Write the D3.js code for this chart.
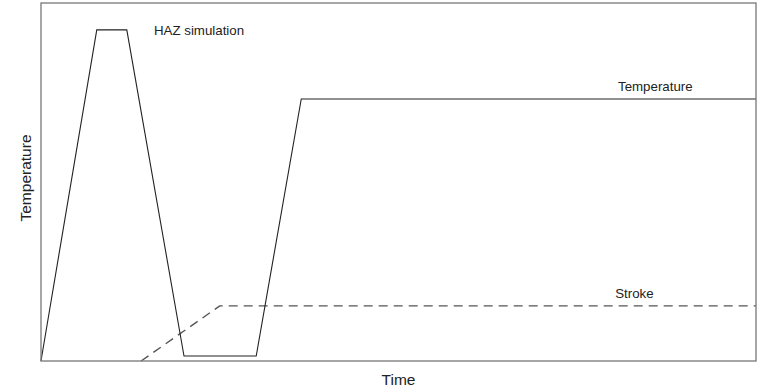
<!DOCTYPE html>
<html>
<head>
  <meta content="text/html;charset=utf-8" http-equiv="Content-Type">
  <title>HAZ simulation</title>
  <style type="text/css">
    body { margin: 0; background: #fff; }
    #chart text { font-family: "Liberation Sans", Arial, sans-serif; fill: #222; }
    #chart .lbl { font-size: 13.3px; }
    #chart .axt { font-size: 15.5px; }
  </style>
  <script src="https://cdnjs.cloudflare.com/ajax/libs/d3/7.6.1/d3.min.js"></script>
  <script>
    // temperature cycle (time, temperature), arbitrary units
    var temp_time = [0, 7.8, 12.0, 20.0, 30.1, 36.4, 100];
    var temp_value = [0, 92.5, 92.5, 1.4, 1.4, 73.2, 73.2];

    // stroke (time, displacement)
    var stroke_time = [14.0, 25.0, 100];
    var stroke_value = [0, 15.4, 15.4];

    var title_text = 'HAZ simulation';
    var x_title = 'Time';
    var y_title = 'Temperature';

    function main() {
      var width = 759, height = 388;
      var left = 41, right = 756, top = 3, bottom = 361;

      var svg = d3.select('#chart').
            attr('width', width).
            attr('height', height);

      var x = d3.scaleLinear().domain([0, 100]).range([left, right]);
      var y = d3.scaleLinear().domain([0, 100]).range([bottom, top]);

      var line = d3.line().
            x(function(d) { return x(d[0]); }).
            y(function(d) { return y(d[1]); });

      var temp = d3.zip(temp_time, temp_value);
      var stroke = d3.zip(stroke_time, stroke_value);

      svg.append('path').
            datum(stroke).
            attr('d', line).
            attr('fill', 'none').
            attr('stroke', '#555').
            attr('stroke-width', 1.4).
            attr('stroke-dasharray', '9,6');

      svg.append('path').
            datum(temp).
            attr('d', line).
            attr('fill', 'none').
            attr('stroke', '#222').
            attr('stroke-width', 1.1);

      // frame
      svg.append('rect').
            attr('x', left).
            attr('y', top).
            attr('width', right - left).
            attr('height', bottom - top).
            attr('fill', 'none').
            attr('stroke', '#777').
            attr('stroke-width', 1.3);

      svg.append('text').
            attr('class', 'lbl').
            attr('x', x(15.8)).
            attr('y', 35).
            text(title_text);

      svg.append('text').
            attr('class', 'lbl').
            attr('x', x(80.7)).
            attr('y', y(73.2) - 8).
            text('Temperature');

      svg.append('text').
            attr('class', 'lbl').
            attr('x', x(80.3)).
            attr('y', y(15.4) - 8).
            text('Stroke');

      svg.append('text').
            attr('class', 'axt').
            attr('x', (left + right) / 2).
            attr('y', 385).
            attr('text-anchor', 'middle').
            text(x_title);

      svg.append('text').
            attr('class', 'axt').
            attr('transform', 'translate(31,' + 178 + ') rotate(-90)').
            attr('text-anchor', 'middle').
            text(y_title);
    }
  </script>
</head>
<body onload='main()'>
  <svg id="chart"></svg>
</body>
</html>
